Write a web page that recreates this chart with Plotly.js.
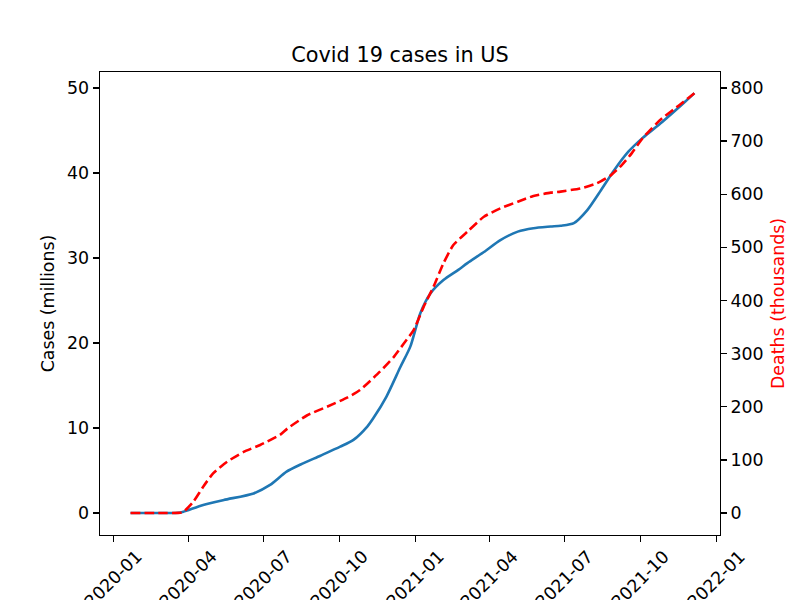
<!DOCTYPE html>
<html>
<head>
<meta charset="utf-8">
<script src="https://cdn.plot.ly/plotly-3.0.1.min.js"></script>
<style>html,body{margin:0;padding:0;background:#fff;}</style>
</head>
<body>
<div id="chart" style="width:800px;height:600px;"></div>
<script>
const casesDates = ["2020-01-22","2020-03-01","2020-03-20","2020-03-26","2020-04-19","2020-05-14","2020-06-19","2020-07-09","2020-07-29","2020-08-15","2020-09-08","2020-10-02","2020-10-18","2020-11-04","2020-11-11","2020-11-27","2020-12-14","2020-12-26","2021-01-07","2021-01-19","2021-02-04","2021-02-22","2021-03-05","2021-03-25","2021-04-14","2021-05-05","2021-05-24","2021-06-14","2021-06-26","2021-07-12","2021-07-28","2021-08-14","2021-08-30","2021-09-16","2021-10-03","2021-10-27","2021-11-24","2021-12-05"];
const casesMillions = [0,0,0.02,0.15,0.94,1.53,2.3,3.3,4.86,5.7,6.74,7.8,8.6,10.2,11.14,13.7,17.2,19.6,23.5,25.8,27.4,28.6,29.4,30.7,32.1,33.1,33.5,33.7,33.8,34.1,35.6,38.0,40.35,42.5,44.1,46.0,48.4,49.4];

const deathsDates = ["2020-01-22","2020-03-01","2020-03-20","2020-03-26","2020-04-07","2020-04-19","2020-05-01","2020-05-18","2020-06-07","2020-06-27","2020-07-21","2020-07-30","2020-08-23","2020-09-16","2020-10-11","2020-10-26","2020-11-19","2020-12-06","2020-12-18","2020-12-30","2021-01-11","2021-01-23","2021-02-04","2021-02-16","2021-03-05","2021-03-25","2021-04-14","2021-05-05","2021-05-24","2021-06-14","2021-06-26","2021-07-20","2021-08-09","2021-08-26","2021-09-08","2021-09-20","2021-10-03","2021-10-20","2021-10-27","2021-11-17","2021-12-05"];
const deathsThousands = [0,0,0.3,2,21,49.5,74.7,96.6,115,128,147,159,184,200,217.7,231.5,266,294,319,344.5,388,426,470,504.5,529.5,557.7,573.5,586,596.7,603,605,611,620.6,636,655,677,705,733,743,768,790];

const xTickVals = ["2020-01-01","2020-04-01","2020-07-01","2020-10-01","2021-01-01","2021-04-01","2021-07-01","2021-10-01","2022-01-01"];
const xTickText = ["2020-01","2020-04","2020-07","2020-10","2021-01","2021-04","2021-07","2021-10","2022-01"];

const FAM = "DejaVu Sans, sans-serif";
const tickFont = {family: FAM, size: 17.4, color: "#000"};

const traces = [
  {x: casesDates, y: casesMillions, type: "scatter", mode: "lines", yaxis: "y",
   line: {color: "#1f77b4", width: 2.6, shape: "spline", smoothing: 0.7}, showlegend: false},
  {x: deathsDates, y: deathsThousands, type: "scatter", mode: "lines", yaxis: "y2",
   line: {color: "#ff0000", width: 2.6, dash: "9.6px,4.2px", shape: "spline", smoothing: 0.5}, showlegend: false}
];

const annotations = xTickVals.map((v, i) => ({
  x: v, xref: "x", y: 0, yref: "paper",
  text: xTickText[i], showarrow: false, textangle: -45,
  xanchor: "center", yanchor: "top", yshift: -10,
  borderpad: 0, font: tickFont
}));

const layout = {
  width: 800, height: 600,
  paper_bgcolor: "#fff", plot_bgcolor: "#fff",
  font: tickFont,
  margin: {l: 100, r: 80, t: 72, b: 65, pad: 0},
  title: {text: "Covid 19 cases in US", font: {family: FAM, size: 20.8, color: "#000"},
          x: 0.5, xanchor: "center", y: 0.909, yanchor: "middle"},
  xaxis: {
    type: "date", range: ["2019-12-16", "2022-01-05"],
    tickvals: xTickVals, ticktext: xTickVals.map(() => ""),
    ticks: "outside", ticklen: 6, tickwidth: 1.4, tickcolor: "#000",
    showline: true, linecolor: "#000", linewidth: 1.4, mirror: true,
    showgrid: false, zeroline: false, tickfont: tickFont
  },
  yaxis: {
    range: [-2.59, 51.88], tickvals: [0,10,20,30,40,50],
    ticks: "outside", ticklen: 6, tickwidth: 1.4, tickcolor: "#000",
    showline: true, linecolor: "#000", linewidth: 1.4, mirror: true,
    showgrid: false, zeroline: false, tickfont: tickFont,
    title: {text: "Cases (millions)", font: tickFont, standoff: 8}
  },
  yaxis2: {
    overlaying: "y", side: "right",
    range: [-41.4, 830.1], tickvals: [0,100,200,300,400,500,600,700,800],
    ticks: "outside", ticklen: 6, tickwidth: 1.4, tickcolor: "#000",
    showline: false, showgrid: false, zeroline: false, tickfont: tickFont,
    title: {text: "Deaths (thousands)", font: {family: FAM, size: 17.4, color: "#ff0000"}, standoff: 9}
  },
  annotations: annotations
};

Plotly.newPlot("chart", traces, layout, {displayModeBar: false, staticPlot: true});
</script>
</body>
</html>
